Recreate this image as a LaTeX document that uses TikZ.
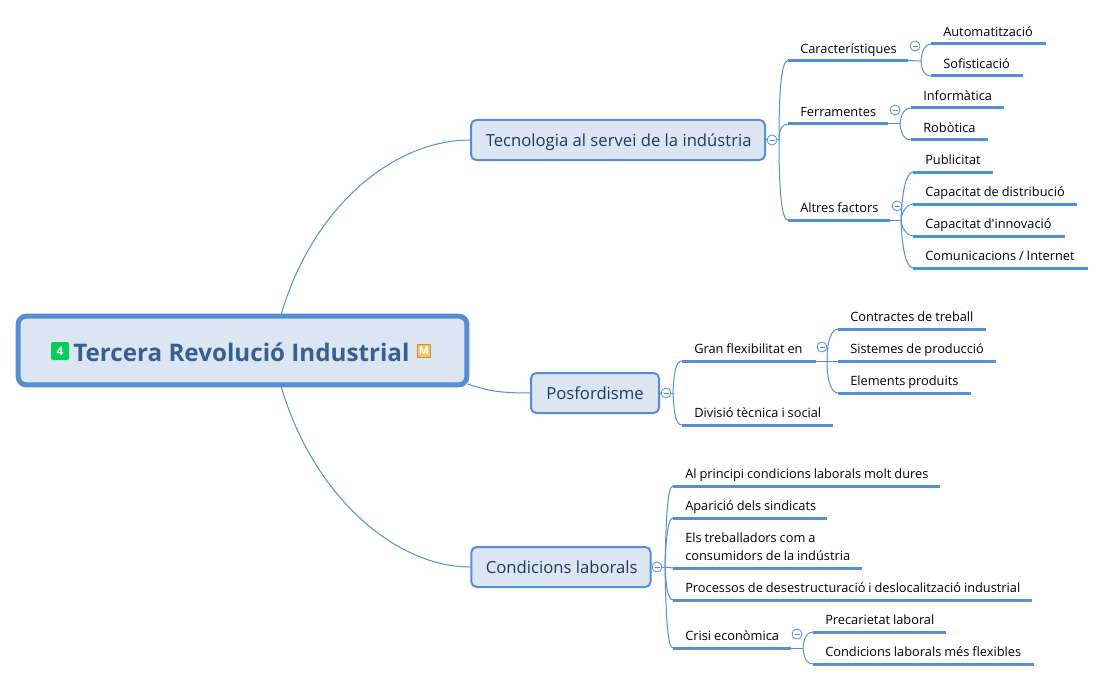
\documentclass[tikz,border=0pt]{standalone}
\usepackage{fontspec}
\setmainfont{Open Sans}
\definecolor{mapline}{HTML}{558ED5}
\definecolor{mapfill}{HTML}{DCE6F2}
\definecolor{maptitle}{HTML}{376092}
\definecolor{mapsub}{HTML}{1F3A60}
\definecolor{badge}{HTML}{00D05A}
\definecolor{medal}{HTML}{F6C66E}
\definecolor{medaledge}{HTML}{D0922E}
\newcommand{\foldmark}{\rule{3.75pt}{0.5pt}}
\tikzset{centralbox/.style={draw=mapline,fill=mapfill,rounded corners=6pt,line width=3.75pt,minimum width=336.5pt,minimum height=51.5pt,inner sep=0pt}}
\tikzset{subbox/.style={draw=mapline,fill=mapfill,rounded corners=4pt,line width=1.5pt,minimum height=30pt,inner sep=0pt,text=mapsub,font=\fontsize{12.5}{15}\selectfont,text height=12pt,text depth=2.2pt}}
\tikzset{leaf/.style={anchor=south west,inner xsep=0pt,inner ysep=1.2pt,text width=#1*0.75pt,align=left,font=\fontsize{9.6}{13.5}\selectfont,execute at begin node={\leftskip=9pt\spaceskip=2.2pt\strut},execute at end node={\strut},append after command={(\tikzlastnode.south west) edge[underbar] (\tikzlastnode.south east)}}}
\tikzset{underbar/.style={draw=mapline,line width=2.25pt}}
\tikzset{branch/.style={draw=mapline,line width=0.75pt}}
\tikzset{fold/.style={circle,draw=mapline,fill=white,line width=0.6pt,minimum size=7.5pt,inner sep=0pt,text=mapline}}

\begin{document}
\begin{tikzpicture}[x=0.75pt,y=-0.75pt]
        \useasboundingbox (0,0) rectangle (1105,681);

        \node[centralbox] (central) at (242.5,350.5) {};
        \node[text=maptitle,font=\fontsize{18.15}{22}\selectfont\bfseries,anchor=west,inner sep=0pt] (title) at (73,352) {Tercera Revolució Industrial};
        \node[fill=badge,rounded corners=1.5pt,text=white,font=\fontsize{9}{10}\selectfont\bfseries,minimum size=13.5pt,inner sep=0pt] (prio) at (60,351) {4};
        \node[draw=medaledge,fill=medal,line width=0.75pt,text=white,font=\fontsize{8}{9}\selectfont\bfseries,minimum size=9.5pt,inner sep=0pt] (medal) at (424,351) {M};

        \node[subbox,minimum width=220.5pt] (tecno) at (618,140) {\hspace{1pt}Tecnologia al servei de la indústria};
        \node[subbox,minimum width=96pt] (posfo) at (595,393) {Posfordisme};
        \node[subbox,minimum width=134.5pt] (condi) at (561,567) {\hspace{1pt}Condicions laborals};

        \node[leaf=119] (carac) at (788,60.5) {Característiques};
        \node[leaf=99] (ferra) at (788,124) {Ferramentes};
        \node[leaf=101] (altres) at (788,220) {Altres factors};
        \node[leaf=114] (autom) at (931,44) {Automatització};
        \node[leaf=91] (sofis) at (931,76) {Sofisticació};
        \node[leaf=92] (infor) at (911,108) {Informàtica};
        \node[leaf=76] (robot) at (911,140) {Robòtica};
        \node[leaf=79] (publi) at (913,172) {Publicitat};
        \node[leaf=163] (distr) at (913,204) {Capacitat de distribució};
        \node[leaf=151] (innov) at (913,236) {Capacitat d\textquotesingle innovació};
        \node[leaf=174] (comun) at (913,268) {Comunicacions / Internet};

        \node[leaf=133] (flexi) at (682,361) {Gran flexibilitat en};
        \node[leaf=150] (divis) at (682,425) {Divisió tècnica i social};
        \node[leaf=147] (contr) at (838,329) {Contractes de treball};
        \node[leaf=157] (siste) at (838,361) {Sistemes de producció};
        \node[leaf=132] (eleme) at (838,393) {Elements produits};

        \node[leaf=266] (princ) at (673,486) {Al principi condicions laborals molt dures};
        \node[leaf=153] (apari) at (673,518) {Aparició dels sindicats};
        \node[leaf=188] (treba) at (673,568) {Els treballadors com a\\consumidors de la indústria};
        \node[leaf=358] (proce) at (673,600) {Processos de desestructuració i deslocalització industrial};
        \node[leaf=117] (crisi) at (673,648) {Crisi econòmica};
        \node[leaf=132] (preca) at (813,632) {Precarietat laboral};
        \node[leaf=220] (flexb) at (813,664) {Condicions laborals més flexibles};

        \node[fold] (tecnofold) at (772,140) {\foldmark};
        \node[fold] (posfofold) at (666,393) {\foldmark};
        \node[fold] (condifold) at (657,567) {\foldmark};
        \node[fold] (caracfold) at (915,46) {\foldmark};
        \node[fold] (ferrafold) at (895,110) {\foldmark};
        \node[fold] (altresfold) at (897,206) {\foldmark};
        \node[fold] (flexifold) at (822,347) {\foldmark};
        \node[fold] (crisifold) at (797,634) {\foldmark};

        \coordinate (centraltop) at (281,315);
        \coordinate (centralbot) at (281,386);
        \coordinate (centralside) at (468,384);
        \coordinate (tecnofork) at (779,140);
        \coordinate (posfofork) at (673,393);
        \coordinate (condifork) at (665,567);
        \coordinate (caracfork) at (921,61);
        \coordinate (ferrafork) at (900,124);
        \coordinate (altresfork) at (901,220);
        \coordinate (flexifork) at (827,361);
        \coordinate (crisifork) at (803,648);

        \draw[branch] (centraltop) .. controls +(32,-110) and +(-75,0) .. (tecno.west);
        \draw[branch] (centralside) .. controls +(20,7) and +(-30,0) .. (posfo.west);
        \draw[branch] (centralbot) .. controls +(32,110) and +(-75,0) .. (condi.west);

        \draw[branch] (tecno.east) -- (tecnofold.west);
        \draw[branch] (tecnofold.east) -- (tecnofork);
        \draw[branch] (tecnofork) .. controls +(0,-55) and +(-6,0) .. (carac.south west);
        \draw[branch] (tecnofork) .. controls +(0,-12) and +(-5,0) .. (ferra.south west);
        \draw[branch] (tecnofork) .. controls +(0,55) and +(-6,0) .. (altres.south west);

        \draw[branch] (carac.south east) -- (caracfork);
        \draw[branch] (caracfork) .. controls +(1,-11) and +(-6,0) .. (autom.south west);
        \draw[branch] (caracfork) .. controls +(1,11) and +(-6,0) .. (sofis.south west);
        \draw[branch] (ferra.south east) -- (ferrafork);
        \draw[branch] (ferrafork) .. controls +(1,-11) and +(-6,0) .. (infor.south west);
        \draw[branch] (ferrafork) .. controls +(1,11) and +(-6,0) .. (robot.south west);
        \draw[branch] (altres.south east) -- (altresfork);
        \draw[branch] (altresfork) .. controls +(1,-32) and +(-6,0) .. (publi.south west);
        \draw[branch] (altresfork) .. controls +(1,-10) and +(-5,0) .. (distr.south west);
        \draw[branch] (altresfork) .. controls +(1,10) and +(-5,0) .. (innov.south west);
        \draw[branch] (altresfork) .. controls +(1,32) and +(-6,0) .. (comun.south west);

        \draw[branch] (posfo.east) -- (posfofold.west);
        \draw[branch] (posfofold.east) -- (posfofork);
        \draw[branch] (posfofork) .. controls +(1,-22) and +(-6,0) .. (flexi.south west);
        \draw[branch] (posfofork) .. controls +(1,22) and +(-6,0) .. (divis.south west);
        \draw[branch] (flexi.south east) -- (siste.south west);
        \draw[branch] (flexifork) .. controls +(0,-22) and +(-6,0) .. (contr.south west);
        \draw[branch] (flexifork) .. controls +(0,22) and +(-6,0) .. (eleme.south west);

        \draw[branch] (condi.east) -- (condifold.west);
        \draw[branch] (condifold.east) -- (condifork);
        \draw[branch] (condifork) .. controls +(1,-55) and +(-5,0) .. (princ.south west);
        \draw[branch] (condifork) .. controls +(1,-30) and +(-5,0) .. (apari.south west);
        \draw[branch] (condifork) -- (treba.south west);
        \draw[branch] (condifork) .. controls +(1,20) and +(-5,0) .. (proce.south west);
        \draw[branch] (condifork) .. controls +(1,55) and +(-5,0) .. (crisi.south west);

        \draw[branch] (crisi.south east) -- (crisifork);
        \draw[branch] (crisifork) .. controls +(1,-11) and +(-6,0) .. (preca.south west);
        \draw[branch] (crisifork) .. controls +(1,11) and +(-6,0) .. (flexb.south west);
    \end{tikzpicture}
\end{document}
